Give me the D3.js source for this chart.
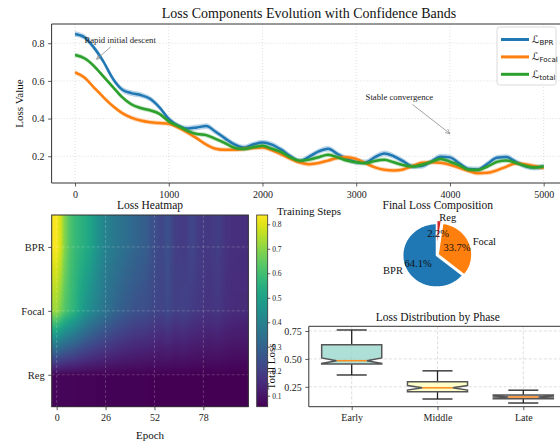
<!DOCTYPE html>
<html>
<head>
<meta charset="utf-8">
<script src="https://cdn.jsdelivr.net/npm/d3@7"></script>
<style>
body { margin: 0; background: #fff; }
svg { display: block; font-family: "Liberation Serif", "Times New Roman", serif; }
</style>
</head>
<body>
<svg id="chart" width="560" height="443"></svg>
<script>
// ---- main loss curves (every 100 steps)
var steps = [0, 100, 200, 300, 400, 500, 600, 700, 800, 900, 1000, 1100, 1200, 1300, 1400, 1500, 1600, 1700, 1800, 1900,
  2000, 2100, 2200, 2300, 2400, 2500, 2600, 2700, 2800, 2900, 3000, 3100, 3200, 3300, 3400, 3500, 3600, 3700, 3800, 3900,
  4000, 4100, 4200, 4300, 4400, 4500, 4600, 4700, 4800, 4900, 5000];
var lossBPR = [.849, .832, .778, .705, .615, .555, .535, .525, .505, .460, .398, .362, .347, .353, .360, .330, .295, .263, .246, .262,
  .273, .262, .235, .200, .174, .198, .226, .240, .212, .186, .170, .168, .195, .215, .200, .174, .146, .148, .172, .198,
  .194, .162, .132, .130, .160, .192, .196, .172, .148, .140, .145];
var lossFocal = [.645, .618, .566, .515, .468, .430, .405, .390, .381, .376, .372, .352, .325, .295, .262, .240, .234, .234, .238, .244,
  .247, .232, .210, .186, .166, .158, .164, .177, .191, .195, .186, .163, .141, .128, .124, .130, .148, .165, .168, .165,
  .155, .138, .122, .110, .112, .125, .144, .162, .158, .148, .138];
var lossTotal = [.737, .720, .680, .625, .570, .515, .476, .456, .444, .425, .385, .360, .335, .318, .312, .292, .270, .245, .238, .248,
  .256, .240, .222, .193, .176, .182, .195, .208, .195, .177, .168, .163, .175, .181, .168, .153, .145, .155, .170, .186,
  .171, .152, .128, .127, .145, .170, .178, .165, .150, .140, .145];
var bandStd = [0.015, 0.012, 0.012];
var seriesSubs = ["BPR", "Focal", "total"];
var seriesColors = ["#1f77b4", "#ff7f0e", "#2ca02c"];
var stepTicks = [0, 1000, 2000, 3000, 4000, 5000];
var lossTicks = [0.2, 0.4, 0.6, 0.8];

// ---- heatmap
var heatRows = ["BPR", "Focal", "Reg"];
var heatEpochs = [0, 2, 4, 7, 10, 14, 18, 22, 26, 31, 36, 42, 48, 52, 56, 59, 63, 68, 72, 76, 81, 86, 90, 95, 101];
var heatBPR = [0.83, 0.79, 0.70, 0.62, 0.58, 0.55, 0.51, 0.45, 0.40, 0.37, 0.34, 0.31, 0.28, 0.24, 0.22, 0.25, 0.20, 0.19, 0.22, 0.19, 0.18, 0.20, 0.17, 0.16, 0.16];
var heatFocal = [0.72, 0.68, 0.63, 0.59, 0.55, 0.48, 0.43, 0.39, 0.35, 0.31, 0.28, 0.25, 0.24, 0.22, 0.21, 0.23, 0.20, 0.21, 0.19, 0.18, 0.17, 0.18, 0.16, 0.15, 0.15];
var heatReg = [0.070, 0.068, 0.066, 0.065, 0.064, 0.063, 0.062, 0.061, 0.060, 0.060, 0.059, 0.059, 0.058, 0.058, 0.058, 0.057, 0.057, 0.057, 0.056, 0.056, 0.056, 0.056, 0.056, 0.055, 0.055];
var heatTicks = [0, 26, 52, 78];
var cbarTicks = [0.1, 0.2, 0.3, 0.4, 0.5, 0.6, 0.7, 0.8];

// ---- pie
var pieLabels = ["BPR", "Focal", "Reg"];
var pieShares = [64.1, 33.7, 2.2];
var pieExplode = [0, 0.05, 0.1];
var pieColors = ["#1f77b4", "#ff7f0e", "#d62728"];

// ---- box plot
var phases = ["Early", "Middle", "Late"];
var boxLow = [0.356, 0.141, 0.105];
var boxQ1 = [0.454, 0.205, 0.144];
var boxMed = [0.484, 0.241, 0.159];
var boxQ3 = [0.626, 0.295, 0.177];
var boxHigh = [0.759, 0.393, 0.220];
var boxNotch = [0.025, 0.02, 0.008];
var boxColors = ["#8dd3c7", "#ffffb3", "#bebada"];
var boxTicks = [0.25, 0.50, 0.75];

var svg = d3.select("#chart");
var defs = svg.append("defs");

function styleAxis(g, size) {
  g.select(".domain").remove();
  g.selectAll("line").attr("stroke", "#333").attr("stroke-width", 0.8);
  g.selectAll("text").attr("fill", "#222").style("font-size", size + "px")
    .style("font-family", "'Liberation Serif','Times New Roman',serif");
}

// =================== main chart ===================
var mx = d3.scaleLinear().domain([-250, 5250]).range([51.6, 567.1]);
var my = d3.scaleLinear().domain([0.058, 0.902]).range([183, 24]);

defs.append("clipPath").attr("id", "clipMain").append("rect")
  .attr("x", mx.range()[0]).attr("y", 24).attr("width", mx.range()[1] - mx.range()[0]).attr("height", 159);

var gridMain = svg.append("g").attr("stroke", "#b0b0b0").attr("stroke-opacity", 0.6)
  .attr("stroke-width", 0.7).attr("stroke-dasharray", "1,2");
gridMain.selectAll(".gx").data(stepTicks).enter().append("line")
  .attr("x1", d => mx(d)).attr("x2", d => mx(d)).attr("y1", 24).attr("y2", 183);
gridMain.selectAll(".gy").data(lossTicks).enter().append("line")
  .attr("x1", mx.range()[0]).attr("x2", mx.range()[1]).attr("y1", d => my(d)).attr("y2", d => my(d));

var mainSeries = [lossBPR, lossFocal, lossTotal];
var plot = svg.append("g").attr("clip-path", "url(#clipMain)");
var area = d3.area().curve(d3.curveMonotoneX);
var line = d3.line().curve(d3.curveMonotoneX).x((d, i) => mx(steps[i])).y(d => my(d));

mainSeries.forEach(function(vals, k) {
  area.x((d, i) => mx(steps[i])).y0(d => my(d - bandStd[k])).y1(d => my(d + bandStd[k]));
  plot.append("path").attr("d", area(vals)).attr("fill", seriesColors[k]).attr("fill-opacity", 0.3);
  plot.append("path").attr("d", line(vals)).attr("fill", "none")
    .attr("stroke", seriesColors[k]).attr("stroke-width", 2.5).attr("stroke-linejoin", "round");
});

svg.append("g").attr("transform", "translate(0,183)")
  .call(d3.axisBottom(mx).tickValues(stepTicks).tickFormat(d3.format("d")).tickSize(3.5).tickPadding(4))
  .call(g => styleAxis(g, 10));
svg.append("g").attr("transform", "translate(51.6,0)")
  .call(d3.axisLeft(my).tickValues(lossTicks).tickFormat(d3.format(".1f")).tickSize(3.5).tickPadding(3.5))
  .call(g => styleAxis(g, 10));

var spines = svg.append("g").attr("stroke", "#333").attr("stroke-width", 1).attr("fill", "none");
spines.append("path").attr("d", "M560,24H51.6V183H560");

svg.append("text").attr("x", 309).attr("y", 17.5).attr("text-anchor", "middle")
  .style("font-size", "14px").attr("fill", "#111").text("Loss Components Evolution with Confidence Bands");
svg.append("text").attr("transform", "translate(23,103.5) rotate(-90)").attr("text-anchor", "middle")
  .style("font-size", "11px").attr("fill", "#111").text("Loss Value");
svg.append("text").attr("x", 309).attr("y", 215).attr("text-anchor", "middle")
  .style("font-size", "11px").attr("fill", "#111").text("Training Steps");

// annotations
defs.append("marker").attr("id", "arrowHead").attr("viewBox", "0 0 10 10").attr("refX", 9).attr("refY", 5)
  .attr("markerWidth", 7).attr("markerHeight", 7).attr("orient", "auto")
  .append("path").attr("d", "M1,1L9,5L1,9").attr("fill", "none").attr("stroke", "#8a8a8a").attr("stroke-width", 1.2);

var annotations = [
  { text: "Rapid initial descent", textAt: [100, 0.8], from: [380, 0.78], to: [230, 0.715] },
  { text: "Stable convergence", textAt: [3100, 0.5], from: [3600, 0.475], to: [4000, 0.32] }
];
annotations.forEach(function(a) {
  svg.append("line").attr("x1", mx(a.from[0])).attr("y1", my(a.from[1]))
    .attr("x2", mx(a.to[0])).attr("y2", my(a.to[1]))
    .attr("stroke", "#8a8a8a").attr("stroke-width", 0.8).attr("marker-end", "url(#arrowHead)");
  svg.append("text").attr("x", mx(a.textAt[0])).attr("y", my(a.textAt[1]))
    .style("font-size", "8.7px").attr("fill", "#222").text(a.text);
});

// legend
var leg = svg.append("g");
leg.append("rect").attr("x", 497).attr("y", 27).attr("width", 59).attr("height", 58).attr("rx", 2.5)
  .attr("fill", "#fff").attr("fill-opacity", 0.85).attr("stroke", "#d0d0d0").attr("stroke-width", 0.8);
seriesSubs.forEach(function(s, k) {
  var y = 39.5 + k * 17.4;
  leg.append("line").attr("x1", 501).attr("x2", 529).attr("y1", y).attr("y2", y)
    .attr("stroke", seriesColors[k]).attr("stroke-width", 3);
  var t = leg.append("text").attr("x", 532).attr("y", y + 3.5).attr("fill", "#111")
    .style("font-family", "'DejaVu Sans',sans-serif").style("font-size", "10.5px");
  t.append("tspan").text("\u2112");
  t.append("tspan").attr("dy", 2).style("font-size", "7px").text(s);
});

// =================== heatmap ===================
var hx = d3.scaleLinear().domain([-2.65, 101.9]).range([51.7, 248.3]);
var hy = d3.scaleLinear().domain([-0.5, 2.5]).range([215, 406.7]);
var heatColor = d3.scaleSequential(d3.interpolateViridis).domain([0.055, 0.838]);
var heatData = [heatBPR, heatFocal, heatReg];

function rowValue(row, e) {
  var ep = Math.max(heatEpochs[0], Math.min(heatEpochs[heatEpochs.length - 1], e));
  var i = d3.bisectRight(heatEpochs, ep);
  if (i <= 0) return row[0];
  if (i >= heatEpochs.length) return row[row.length - 1];
  var t = (ep - heatEpochs[i - 1]) / (heatEpochs[i] - heatEpochs[i - 1]);
  return row[i - 1] + t * (row[i] - row[i - 1]);
}

var hW = Math.round(hx.range()[1] - hx.range()[0]), hH = Math.round(hy.range()[1] - hy.range()[0]);
var canvas = document.createElement("canvas");
canvas.width = hW; canvas.height = hH;
var ctx = canvas.getContext("2d");
var img = ctx.createImageData(hW, hH);
for (var px = 0; px < hW; px++) {
  var e = hx.invert(hx.range()[0] + px + 0.5);
  var colVals = heatData.map(r => rowValue(r, e));
  for (var py = 0; py < hH; py++) {
    var r = Math.max(0, Math.min(2, hy.invert(hy.range()[0] + py + 0.5)));
    var r0 = Math.min(1, Math.floor(r)), f = r - r0;
    var v = colVals[r0] + f * (colVals[r0 + 1] - colVals[r0]);
    var c = d3.rgb(heatColor(v));
    var o = (py * hW + px) * 4;
    img.data[o] = c.r; img.data[o + 1] = c.g; img.data[o + 2] = c.b; img.data[o + 3] = 255;
  }
}
ctx.putImageData(img, 0, 0);
svg.append("image").attr("x", hx.range()[0]).attr("y", hy.range()[0]).attr("width", hW).attr("height", hH)
  .attr("preserveAspectRatio", "none").attr("href", canvas.toDataURL());

var hGrid = svg.append("g").attr("stroke", "#ffffff").attr("stroke-opacity", 0.25)
  .attr("stroke-width", 0.8).attr("stroke-dasharray", "3,2");
hGrid.selectAll(".hx").data(heatTicks).enter().append("line")
  .attr("x1", d => hx(d)).attr("x2", d => hx(d)).attr("y1", 215).attr("y2", 406.7);
hGrid.selectAll(".hy").data(heatRows).enter().append("line")
  .attr("x1", 51.7).attr("x2", 248.3).attr("y1", (d, i) => hy(i)).attr("y2", (d, i) => hy(i));
svg.append("rect").attr("x", 51.7).attr("y", 215).attr("width", 196.6).attr("height", 191.7)
  .attr("fill", "none").attr("stroke", "#333").attr("stroke-width", 1);

svg.append("g").attr("transform", "translate(0,406.7)")
  .call(d3.axisBottom(hx).tickValues(heatTicks).tickFormat(d3.format("d")).tickSize(3.5).tickPadding(4))
  .call(g => styleAxis(g, 10));
svg.append("g").attr("transform", "translate(51.7,0)")
  .call(d3.axisLeft(d3.scaleLinear().domain([0, 2]).range([hy(0), hy(2)])).tickValues([0, 1, 2])
    .tickFormat(i => heatRows[i]).tickSize(3.5).tickPadding(3.5))
  .call(g => styleAxis(g, 10.5));
svg.append("text").attr("x", 150).attr("y", 209).attr("text-anchor", "middle")
  .style("font-size", "11.5px").attr("fill", "#111").text("Loss Heatmap");
svg.append("text").attr("x", 150).attr("y", 439).attr("text-anchor", "middle")
  .style("font-size", "11px").attr("fill", "#111").text("Epoch");

// colorbar
var cy = d3.scaleLinear().domain(heatColor.domain()).range([406.7, 215]);
var grad = defs.append("linearGradient").attr("id", "viridisGrad").attr("x1", 0).attr("y1", 1).attr("x2", 0).attr("y2", 0);
d3.range(0, 1.0001, 0.05).forEach(function(t) {
  grad.append("stop").attr("offset", t).attr("stop-color", d3.interpolateViridis(t));
});
svg.append("rect").attr("x", 256.7).attr("y", 215).attr("width", 11).attr("height", 191.7)
  .attr("fill", "url(#viridisGrad)").attr("stroke", "#333").attr("stroke-width", 0.8);
svg.append("g").attr("transform", "translate(267.7,0)")
  .call(d3.axisRight(cy).tickValues(cbarTicks).tickFormat(d3.format(".1f")).tickSize(2.5).tickPadding(2))
  .call(g => styleAxis(g, 7.5));

// =================== pie ===================
var pcx = 436.5, pcy = 255.3, prx = 33.8, pry = 31.8;
var ppx = d3.scaleLinear().domain([-1.25, 1.25]).range([pcx - 1.25 * prx, pcx + 1.25 * prx]);
var ppy = d3.scaleLinear().domain([-1.25, 1.25]).range([pcy + 1.25 * pry, pcy - 1.25 * pry]);
var pieTotal = d3.sum(pieShares);
var pieG = svg.append("g");
var angle = 90;
pieShares.forEach(function(s, k) {
  var sweep = s / pieTotal * 360;
  var a0 = angle, mid = (a0 + sweep / 2) * Math.PI / 180;
  var ox = pieExplode[k] * Math.cos(mid), oy = pieExplode[k] * Math.sin(mid);
  var pts = [[ppx(ox), ppy(oy)]];
  var n = Math.max(4, Math.ceil(sweep / 2));
  for (var j = 0; j <= n; j++) {
    var th = (a0 + sweep * j / n) * Math.PI / 180;
    pts.push([ppx(ox + Math.cos(th)), ppy(oy + Math.sin(th))]);
  }
  pieG.append("path").attr("d", "M" + pts.join("L") + "Z")
    .attr("fill", pieColors[k]).attr("stroke", "#fff").attr("stroke-width", 1.5).attr("stroke-linejoin", "round");
  var lx = ox + 1.1 * Math.cos(mid), ly = oy + 1.1 * Math.sin(mid);
  pieG.append("text").attr("x", ppx(lx)).attr("y", ppy(ly)).attr("dy", "0.33em")
    .attr("text-anchor", lx > 0 ? "start" : "end").style("font-size", "10.5px").attr("fill", "#111")
    .text(pieLabels[k]);
  angle += sweep;
});
// percentage labels on top of all wedges
angle = 90;
pieShares.forEach(function(s, k) {
  var sweep = s / pieTotal * 360;
  var mid = (angle + sweep / 2) * Math.PI / 180;
  var r = 0.6 + pieExplode[k];
  pieG.append("text").attr("x", ppx(r * Math.cos(mid))).attr("y", ppy(r * Math.sin(mid))).attr("dy", "0.33em")
    .attr("text-anchor", "middle").style("font-size", "10.5px").attr("fill", "#111")
    .text(d3.format(".1f")(s / pieTotal * 100) + "%");
  angle += sweep;
});
svg.append("text").attr("x", 437.8).attr("y", 209).attr("text-anchor", "middle")
  .style("font-size", "11.5px").attr("fill", "#111").text("Final Loss Composition");

// =================== box plot ===================
var bx = d3.scaleLinear().domain([0.5, 3.5]).range([308.8, 566.2]);
var by = d3.scaleLinear().domain([0.072, 0.792]).range([406.7, 326.3]);
var bGrid = svg.append("g").attr("stroke", "#b0b0b0").attr("stroke-opacity", 0.6)
  .attr("stroke-width", 0.7).attr("stroke-dasharray", "3,2");
bGrid.selectAll(".bgx").data(phases).enter().append("line")
  .attr("x1", (d, i) => bx(i + 1)).attr("x2", (d, i) => bx(i + 1)).attr("y1", 326.3).attr("y2", 406.7);
bGrid.selectAll(".bgy").data(boxTicks).enter().append("line")
  .attr("x1", 308.8).attr("x2", 566).attr("y1", d => by(d)).attr("y2", d => by(d));

var boxW = 0.7;
phases.forEach(function(p, i) {
  var c = i + 1;
  var x0 = bx(c - boxW / 2), x1 = bx(c + boxW / 2), xn0 = bx(c - boxW / 4), xn1 = bx(c + boxW / 4);
  var capL = bx(c - boxW / 4), capR = bx(c + boxW / 4);
  var g = svg.append("g");
  var wh = g.append("g").attr("stroke", "#222").attr("stroke-width", 1.3);
  wh.append("line").attr("x1", bx(c)).attr("x2", bx(c)).attr("y1", by(boxQ3[i])).attr("y2", by(boxHigh[i]));
  wh.append("line").attr("x1", bx(c)).attr("x2", bx(c)).attr("y1", by(boxQ1[i])).attr("y2", by(boxLow[i]));
  wh.append("line").attr("x1", capL).attr("x2", capR).attr("y1", by(boxHigh[i])).attr("y2", by(boxHigh[i]));
  wh.append("line").attr("x1", capL).attr("x2", capR).attr("y1", by(boxLow[i])).attr("y2", by(boxLow[i]));
  var nLo = by(boxMed[i] - boxNotch[i]), nHi = by(boxMed[i] + boxNotch[i]), m = by(boxMed[i]);
  var q1 = by(boxQ1[i]), q3 = by(boxQ3[i]);
  var d = "M" + x0 + "," + q1 + "L" + x1 + "," + q1 + "L" + x1 + "," + nLo + "L" + xn1 + "," + m +
    "L" + x1 + "," + nHi + "L" + x1 + "," + q3 + "L" + x0 + "," + q3 + "L" + x0 + "," + nHi +
    "L" + xn0 + "," + m + "L" + x0 + "," + nLo + "Z";
  g.append("path").attr("d", d).attr("fill", boxColors[i]).attr("fill-opacity", 0.7)
    .attr("stroke", "#555").attr("stroke-width", 1.5).attr("stroke-linejoin", "miter");
  g.append("line").attr("x1", xn0).attr("x2", xn1).attr("y1", m).attr("y2", m)
    .attr("stroke", "#ff8c1a").attr("stroke-width", 1.5);
});

svg.append("g").attr("transform", "translate(0,406.7)")
  .call(d3.axisBottom(bx).tickValues([1, 2, 3]).tickFormat(i => phases[i - 1]).tickSize(3.5).tickPadding(4))
  .call(g => styleAxis(g, 10));
svg.append("g").attr("transform", "translate(308.8,0)")
  .call(d3.axisLeft(by).tickValues(boxTicks).tickFormat(d3.format(".2f")).tickSize(3.5).tickPadding(3.5))
  .call(g => styleAxis(g, 10));
svg.append("path").attr("d", "M560,326.3H308.8V406.7H560").attr("fill", "none").attr("stroke", "#333").attr("stroke-width", 1);
svg.append("text").attr("x", 437.8).attr("y", 320.5).attr("text-anchor", "middle")
  .style("font-size", "11.5px").attr("fill", "#111").text("Loss Distribution by Phase");
svg.append("text").attr("transform", "translate(275,366.5) rotate(-90)").attr("text-anchor", "middle")
  .style("font-size", "11px").attr("fill", "#111").text("Total Loss");
</script>
</body>
</html>
